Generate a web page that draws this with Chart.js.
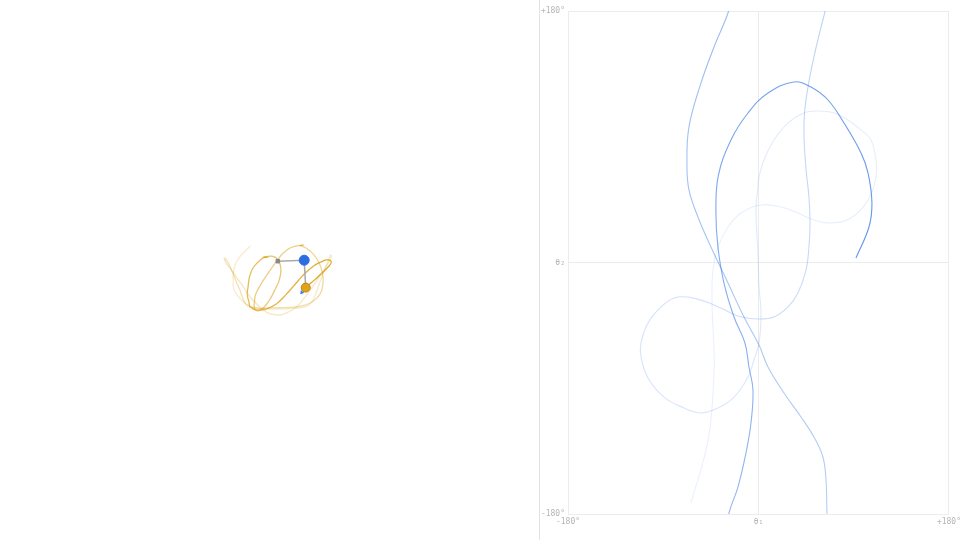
<!DOCTYPE html>
<html>
<head>
<meta charset="utf-8">
<script src="https://cdn.jsdelivr.net/npm/chart.js@4.4.1/dist/chart.umd.min.js"></script>
<style>
  html, body { margin: 0; padding: 0; background: #fff; overflow: hidden; }
  #left { position: absolute; left: 0; top: 0; width: 539px; height: 540px; }
  #right { position: absolute; left: 539px; top: 0; width: 425px; height: 540px; border-left: 1px solid #e2e2e2; box-sizing: border-box; }
  #right canvas { position: absolute; left: 0; top: 0; }
</style>
</head>
<body>
<div id="left"><canvas id="pend" width="539" height="540"></canvas></div>
<div id="right"><canvas id="phase" width="424" height="540"></canvas></div>
<script>
// trajectory in phase space [theta1, theta2] in degrees, oldest first
// each run ends where theta2 wraps past +180 and comes back in at -180
var run1 = [[-63.8,-172.1],[-49.6,-134.2],[-44.9,-112.7],[-42.0,-79.1],[-42.0,-62.6],[-43.9,-29.0],[-43.0,-5.4],[-38.3,11.1],[-28.8,25.4],[-16.5,35.4],[2.4,41.2],[21.3,39.7],[37.3,35.4],[52.4,30.4],[68.5,28.3],[87.4,31.8],[103.5,44.7],[111.0,61.2],[111.0,73.4],[106.3,87.7],[96.9,94.8],[84.6,102.0],[71.3,107.0],[56.2,108.4],[43.0,107.0],[27.9,99.8],[14.6,87.7],[5.2,73.4],[0.5,61.2],[-0.5,54.0],[-2.4,37.6],[-0.5,6.8],[0.5,-17.5],[2.4,-36.1],[0.5,-57.6],[-4.3,-69.8],[-9.9,-81.9],[-23.1,-96.3],[-38.3,-104.1],[-54.3,-107.7],[-70.4,-104.1],[-89.3,-96.3],[-104.4,-82.7],[-111.0,-67.6],[-111.0,-57.6],[-104.4,-43.3],[-92.1,-31.8],[-79.8,-25.4],[-66.6,-24.7],[-51.5,-27.6],[-35.4,-32.6],[-19.4,-38.3],[-0.5,-40.4],[14.6,-39.0],[27.9,-31.8],[37.3,-21.8],[44.9,-5.4],[47.7,11.1],[48.7,28.3],[47.7,46.9],[45.0,66.2],[43.0,90.0],[43.5,107.0],[46.8,125.6],[52.4,147.1],[59.1,168.5],[62.8,179.3],[63.6,184]];
var run2 = [[64.9,-184],[64.7,-179.3],[63.8,-155.7],[60.9,-139.2],[52.4,-124.9],[40.2,-110.6],[24.1,-93.4],[9.0,-74.8],[0.5,-59.1],[-13.7,-39.0],[-28.8,-14.7],[-44.9,11.1],[-57.2,32.6],[-65.7,51.9],[-67.6,70.0],[-65.7,97.0],[-54.3,128.5],[-42.0,154.2],[-28.8,178.6],[-28.4,184]];
var run3 = [[-27.2,-184],[-27.9,-179.3],[-19.4,-160.7],[-11.8,-136.3],[-7.1,-114.9],[-5.2,-91.3],[-9.0,-74.8],[-12.8,-57.6],[-23.1,-39.0],[-32.6,-14.7],[-38.3,11.1],[-40.2,35.4],[-38.0,62.0],[-26.0,87.7],[-9.9,107.0],[9.0,121.3],[33.5,129.2],[49.6,125.6],[65.7,116.3],[80.8,99.8],[96.9,78.4],[103.5,64.1],[107.2,42.6],[104.4,25.4],[92.1,3.2]];
var runs = [run1, run2, run3];
var armLengths = [27, 28];

var rad = Math.PI / 180;
var phasePts = [];
var bobPts = [];
runs.forEach(function(run, r) {
    if (r > 0) phasePts.push({x: run[0][0], y: null});
    run.forEach(function(p) {
        phasePts.push({x: p[0], y: p[1]});
        var x1 = armLengths[0] * Math.sin(p[0] * rad), y1 = -armLengths[0] * Math.cos(p[0] * rad);
        bobPts.push({x: x1 + armLengths[1] * Math.sin(p[1] * rad), y: y1 - armLengths[1] * Math.cos(p[1] * rad)});
    });
});
var last = run3[run3.length - 1];
var bob1 = {x: armLengths[0] * Math.sin(last[0] * rad), y: -armLengths[0] * Math.cos(last[0] * rad)};
var bob2 = bobPts[bobPts.length - 1];

function fade(r, g, b, lo, hi, n) {
    return function(ctx) {
        var t = ctx.p0DataIndex / (n - 1);
        return 'rgba(' + r + ',' + g + ',' + b + ',' + (lo + (hi - lo) * t * t).toFixed(3) + ')';
    };
}

// left: the pendulum and the trail of its lower bob
new Chart(document.getElementById('pend'), {
    type: 'scatter',
    data: {
        datasets: [
            {data: [bob2], pointRadius: 4.5, backgroundColor: '#e0a11b', borderColor: '#b8860b', borderWidth: 1, order: 0},
            {data: [bob1], pointRadius: 5, backgroundColor: '#2c6fe0', borderColor: '#2c6fe0', order: 1},
            {data: [{x: 0, y: 0}], pointStyle: 'rect', pointRadius: 2.5, backgroundColor: '#888', borderColor: '#888', order: 2},
            {data: [{x: 0, y: 0}, bob1, bob2], showLine: true, borderColor: '#a9a9a9', borderWidth: 1.5, pointRadius: 0, order: 3},
            {data: [{x: bob2.x - 4, y: bob2.y - 5}], pointStyle: 'triangle', rotation: 220, pointRadius: 2.5, backgroundColor: '#3b7be8', borderWidth: 0, order: 4},
            {data: bobPts, showLine: true, pointRadius: 0, borderWidth: 1.3, tension: 0.4,
             segment: {borderColor: fade(218, 160, 22, 0.2, 0.95, bobPts.length)}, order: 5}
        ]
    },
    options: {
        responsive: false, animation: false,
        layout: {padding: 0},
        plugins: {legend: {display: false}, tooltip: {enabled: false}},
        scales: {
            x: {display: false, min: -278, max: 261},
            y: {display: false, min: -279, max: 261}
        }
    }
});

// right: theta1 / theta2 phase plot
var tickFont = {family: 'DejaVu Sans Mono', size: 8};
new Chart(document.getElementById('phase'), {
    type: 'scatter',
    data: {
        datasets: [{
            data: phasePts, showLine: true, spanGaps: false, pointRadius: 0, borderWidth: 1.1, tension: 0.4,
            segment: {borderColor: fade(70, 130, 230, 0.12, 0.85, phasePts.length)}
        }]
    },
    options: {
        responsive: false, animation: false,
        layout: {padding: {top: 11, right: 12, left: 0, bottom: 0}},
        plugins: {legend: {display: false}, tooltip: {enabled: false}},
        scales: {
            x: {
                min: -180, max: 180,
                afterFit: function(s) { s.height = 26; },
                grid: {color: '#ececec', drawTicks: false},
                border: {color: '#ececec'},
                ticks: {stepSize: 180, padding: 3, color: '#b5b5b5', font: tickFont, maxRotation: 0,
                        callback: function(v) { return v === 0 ? 'θ₁' : (v < 0 ? '-180°' : '+180°'); }}
            },
            y: {
                min: -180, max: 180,
                afterFit: function(s) { s.width = 28; },
                grid: {color: '#ececec', drawTicks: false},
                border: {color: '#ececec'},
                ticks: {stepSize: 180, padding: 3, color: '#b5b5b5', font: tickFont,
                        callback: function(v) { return v === 0 ? 'θ₂' : (v < 0 ? '-180°' : '+180°'); }}
            }
        }
    }
});
</script>
</body>
</html>
